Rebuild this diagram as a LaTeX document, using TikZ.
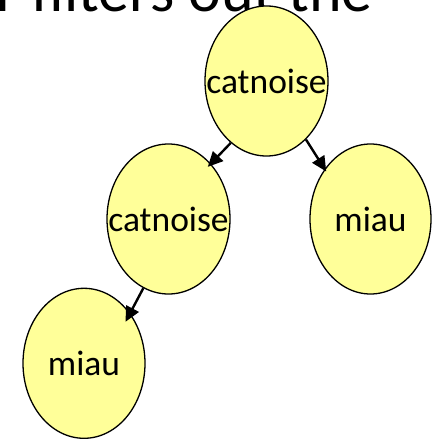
\documentclass[tikz,border=0pt]{standalone}
\usepackage{fontspec}
\setmainfont{Carlito}
\usetikzlibrary{shapes.geometric,arrows.meta,calc}
\definecolor{nodefill}{HTML}{FFFF99}
\tikzset{
  treenode/.style={ellipse, draw=black, line width=1.3pt, fill=nodefill,
    minimum width=123pt, minimum height=150pt, inner sep=0pt},
  treelabel/.style={anchor=base, inner sep=0pt, yshift=-12pt,
    font=\fontsize{35.5}{40}\selectfont},
  treeedge/.style={line width=2.4pt, -{Triangle[length=15pt,width=14pt]}}
}
\begin{document}
\begin{tikzpicture}[x=1pt,y=-1pt]
\useasboundingbox (0,0) rectangle (432,439);
\clip (0,0) rectangle (432,439);
\node[anchor=base east, inner sep=0pt, font=\fontsize{62}{70}\selectfont] (title) at (373,12) {r filters out the};
\node[treenode] (root) at (266.5,81) {};
\node[treenode] (left) at (168.5,219) {};
\node[treenode, minimum width=121pt] (right) at (370.5,219) {};
\node[treenode, minimum width=122pt] (ll) at (84,363.3) {};
\node[treelabel] (rootlabel) at (root.center) {catnoise};
\node[treelabel] (leftlabel) at (left.center) {catnoise};
\node[treelabel] (rightlabel) at (right.center) {miau};
\node[treelabel] (lllabel) at (ll.center) {miau};
\draw[treeedge] (root.240.3) -- ($(left.center)!0.935!(left.53.1)$);
\draw[treeedge] (root.304.5) -- ($(right.center)!0.958!(right.133)$);
\draw[treeedge] (left.250.5) -- ($(ll.center)!0.869!(ll.45.2)$);
\end{tikzpicture}
\end{document}
